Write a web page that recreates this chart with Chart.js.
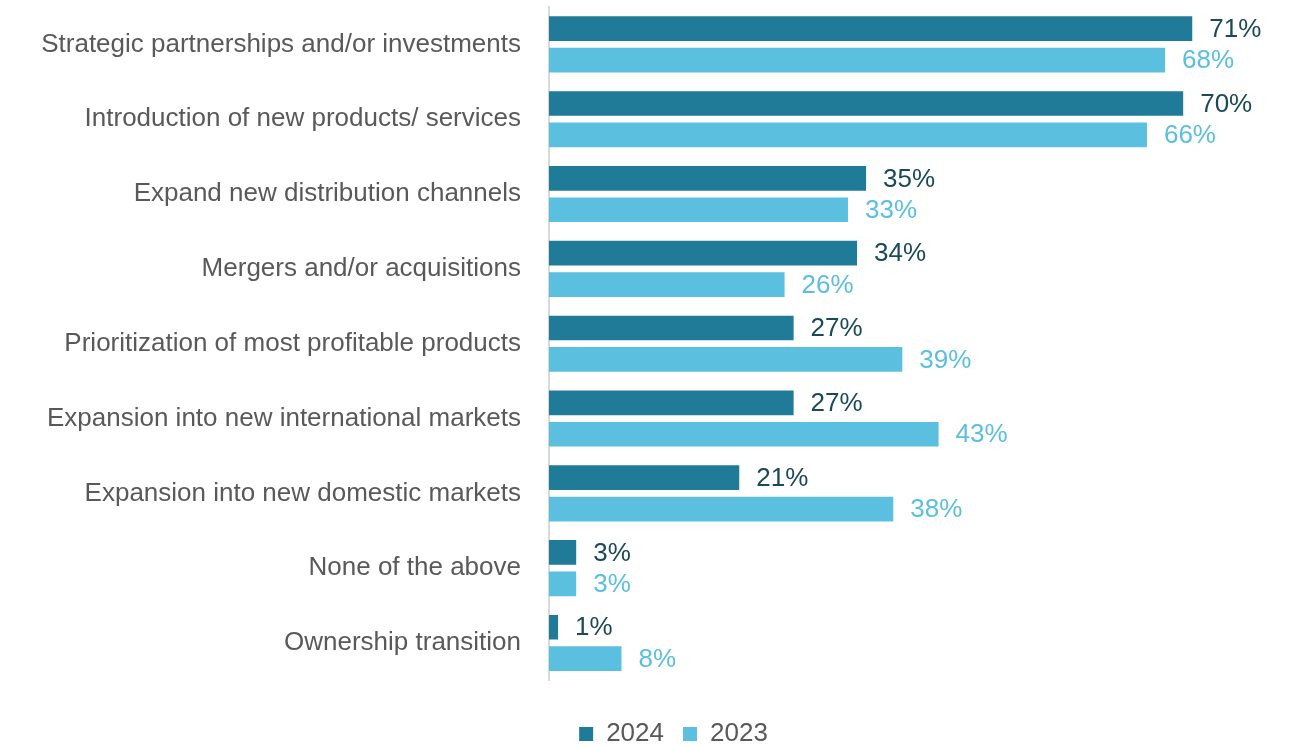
<!DOCTYPE html>
<html>
<head>
<meta charset="utf-8">
<script src="https://cdn.jsdelivr.net/npm/chart.js@4"></script>
<style>
  html, body { margin: 0; padding: 0; background: #fff; }
  #wrap { width: 1301px; height: 747px; position: relative; }
</style>
</head>
<body>
<div id="wrap"><canvas id="chart" width="1301" height="747"></canvas></div>
<script>
const categories = [
  'Strategic partnerships and/or investments',
  'Introduction of new products/ services',
  'Expand new distribution channels',
  'Mergers and/or acquisitions',
  'Prioritization of most profitable products',
  'Expansion into new international markets',
  'Expansion into new domestic markets',
  'None of the above',
  'Ownership transition'
];
const values2024 = [71, 70, 35, 34, 27, 27, 21, 3, 1];
const values2023 = [68, 66, 33, 26, 39, 43, 38, 3, 8];
const seriesNames = ['2024', '2023'];

const darkBlue = '#1f7b98';
const lightBlue = '#5bbfdf';
const labelColors = ['#1a4959', lightBlue];
const fontFamily = 'Arial, "Liberation Sans", sans-serif';

// value labels drawn next to each bar end
const barLabels = {
  id: 'barLabels',
  afterDatasetsDraw(chart) {
    const ctx = chart.ctx;
    ctx.save();
    ctx.font = '26px ' + fontFamily;
    ctx.textAlign = 'left';
    ctx.textBaseline = 'middle';
    chart.data.datasets.forEach((ds, i) => {
      const meta = chart.getDatasetMeta(i);
      ctx.fillStyle = labelColors[i];
      meta.data.forEach((bar, j) => {
        ctx.fillText(ds.data[j] + '%', bar.x + 17, bar.y + 1);
      });
    });
    ctx.restore();
  }
};

// legend sits a bit right of the canvas centre in the original
const legendShift = {
  id: 'legendShift',
  afterLayout(chart) {
    chart.legend.left += 18;
    chart.legend.right += 18;
  }
};

new Chart(document.getElementById('chart'), {
  type: 'bar',
  data: {
    labels: categories,
    datasets: [
      { label: seriesNames[0], data: values2024, backgroundColor: darkBlue },
      { label: seriesNames[1], data: values2023, backgroundColor: lightBlue }
    ]
  },
  options: {
    indexAxis: 'y',
    responsive: false,
    animation: false,
    categoryPercentage: 0.84,
    barPercentage: 0.785,
    layout: { padding: { top: 7, right: 10, bottom: -10, left: 20 } },
    plugins: {
      legend: {
        position: 'bottom',
        title: { display: true, text: '', font: { size: 18 }, padding: 0 },
        labels: {
          boxWidth: 14,
          boxHeight: 14,
          color: '#595959',
          font: { size: 26, family: fontFamily },
          padding: 19
        }
      },
      tooltip: { enabled: false }
    },
    scales: {
      x: {
        min: 0,
        max: 81.9,
        display: false,
        grid: { display: false }
      },
      y: {
        grid: { display: false, drawTicks: false },
        border: { color: '#d9d9d9', width: 2 },
        ticks: {
          color: '#595959',
          padding: 28,
          font: { size: 26, family: fontFamily }
        },
        afterFit(scale) {
          scale.width = 529;
          scale.paddingTop = 0;
          scale.paddingBottom = 0;
        }
      }
    }
  },
  plugins: [barLabels, legendShift]
});
</script>
</body>
</html>
